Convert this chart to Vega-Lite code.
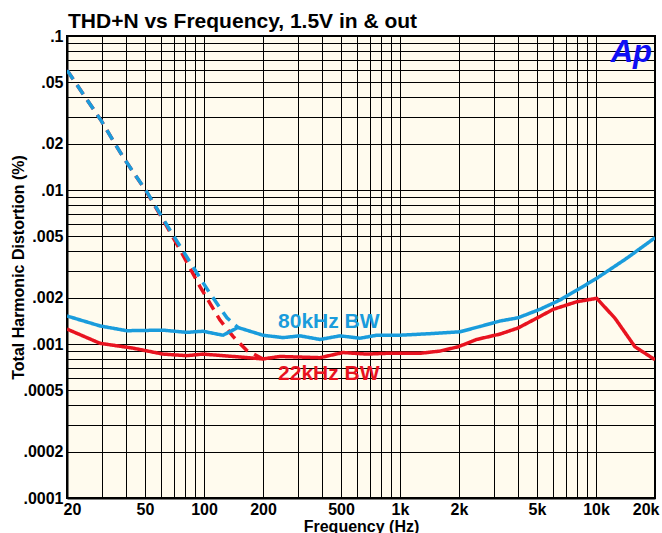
{
  "$schema": "https://vega.github.io/schema/vega-lite/v6.json",
  "width": 588,
  "height": 462,
  "autosize": {"type": "none"},
  "padding": {"left": 67, "top": 36, "right": 7, "bottom": 35},
  "background": "white",
  "title": {"text": "THD+N vs Frequency, 1.5V in & out", "anchor": "start", "frame": "group", "font": "Liberation Sans", "fontSize": 21, "fontWeight": "bold", "color": "black", "offset": 4, "dy": 8, "dx": 1},
  "config": {
    "view": {"fill": "#FFFBEE", "stroke": "black", "strokeWidth": 2},
    "axis": {
      "domainColor": "black", "domainWidth": 2,
      "gridColor": "black", "gridWidth": 1, "gridOpacity": 1,
      "ticks": false,
      "labelFont": "Liberation Sans", "labelFontWeight": "bold", "labelFontSize": 16, "labelColor": "black",
      "titleFont": "Liberation Sans", "titleFontWeight": "bold", "titleFontSize": 16, "titleColor": "black",
      "labelOverlap": false, "labelBound": false
    }
  },
  "datasets": {
    "curves": [
      {"bw": "80kHz", "kind": "solid", "f": 20, "v": 0.00152},
      {"bw": "80kHz", "kind": "solid", "f": 29.5, "v": 0.00131},
      {"bw": "80kHz", "kind": "solid", "f": 40.3, "v": 0.00122},
      {"bw": "80kHz", "kind": "solid", "f": 61.8, "v": 0.00123},
      {"bw": "80kHz", "kind": "solid", "f": 81.6, "v": 0.00119},
      {"bw": "80kHz", "kind": "solid", "f": 98.8, "v": 0.00121},
      {"bw": "80kHz", "kind": "solid", "f": 125, "v": 0.00114},
      {"bw": "80kHz", "kind": "solid", "f": 149, "v": 0.00128},
      {"bw": "80kHz", "kind": "solid", "f": 200, "v": 0.00114},
      {"bw": "80kHz", "kind": "solid", "f": 253, "v": 0.0011},
      {"bw": "80kHz", "kind": "solid", "f": 309, "v": 0.00113},
      {"bw": "80kHz", "kind": "solid", "f": 391, "v": 0.00107},
      {"bw": "80kHz", "kind": "solid", "f": 494, "v": 0.00113},
      {"bw": "80kHz", "kind": "solid", "f": 625, "v": 0.00109},
      {"bw": "80kHz", "kind": "solid", "f": 760, "v": 0.00114},
      {"bw": "80kHz", "kind": "solid", "f": 1000, "v": 0.00114},
      {"bw": "80kHz", "kind": "solid", "f": 1474, "v": 0.00117},
      {"bw": "80kHz", "kind": "solid", "f": 2024, "v": 0.0012},
      {"bw": "80kHz", "kind": "solid", "f": 2560, "v": 0.0013},
      {"bw": "80kHz", "kind": "solid", "f": 3238, "v": 0.00141},
      {"bw": "80kHz", "kind": "solid", "f": 4000, "v": 0.00148},
      {"bw": "80kHz", "kind": "solid", "f": 5180, "v": 0.00168},
      {"bw": "80kHz", "kind": "solid", "f": 6550, "v": 0.00193},
      {"bw": "80kHz", "kind": "solid", "f": 8280, "v": 0.0023},
      {"bw": "80kHz", "kind": "solid", "f": 10080, "v": 0.00267},
      {"bw": "80kHz", "kind": "solid", "f": 14340, "v": 0.0036},
      {"bw": "80kHz", "kind": "solid", "f": 20000, "v": 0.0049},
      {"bw": "80kHz", "kind": "dashed", "f": 20, "v": 0.06},
      {"bw": "80kHz", "kind": "dashed", "f": 30, "v": 0.028},
      {"bw": "80kHz", "kind": "dashed", "f": 38.6, "v": 0.0164},
      {"bw": "80kHz", "kind": "dashed", "f": 51, "v": 0.00975},
      {"bw": "80kHz", "kind": "dashed", "f": 67, "v": 0.0055},
      {"bw": "80kHz", "kind": "dashed", "f": 92, "v": 0.00289},
      {"bw": "80kHz", "kind": "dashed", "f": 107, "v": 0.00214},
      {"bw": "80kHz", "kind": "dashed", "f": 131, "v": 0.00148},
      {"bw": "80kHz", "kind": "dashed", "f": 149, "v": 0.00128},
      {"bw": "22kHz", "kind": "solid", "f": 20, "v": 0.00125},
      {"bw": "22kHz", "kind": "solid", "f": 29.5, "v": 0.00101},
      {"bw": "22kHz", "kind": "solid", "f": 43.4, "v": 0.00094},
      {"bw": "22kHz", "kind": "solid", "f": 61.8, "v": 0.00086},
      {"bw": "22kHz", "kind": "solid", "f": 81.6, "v": 0.00084},
      {"bw": "22kHz", "kind": "solid", "f": 98.8, "v": 0.00086},
      {"bw": "22kHz", "kind": "solid", "f": 140.6, "v": 0.00083},
      {"bw": "22kHz", "kind": "solid", "f": 200, "v": 0.0008},
      {"bw": "22kHz", "kind": "solid", "f": 244, "v": 0.00083},
      {"bw": "22kHz", "kind": "solid", "f": 391, "v": 0.000815},
      {"bw": "22kHz", "kind": "solid", "f": 512, "v": 0.00088},
      {"bw": "22kHz", "kind": "solid", "f": 676, "v": 0.00086},
      {"bw": "22kHz", "kind": "solid", "f": 855, "v": 0.00087},
      {"bw": "22kHz", "kind": "solid", "f": 1264, "v": 0.00087},
      {"bw": "22kHz", "kind": "solid", "f": 1600, "v": 0.0009},
      {"bw": "22kHz", "kind": "solid", "f": 1984, "v": 0.00096},
      {"bw": "22kHz", "kind": "solid", "f": 2460, "v": 0.00107},
      {"bw": "22kHz", "kind": "solid", "f": 3238, "v": 0.00116},
      {"bw": "22kHz", "kind": "solid", "f": 4000, "v": 0.00127},
      {"bw": "22kHz", "kind": "solid", "f": 4980, "v": 0.00147},
      {"bw": "22kHz", "kind": "solid", "f": 6055, "v": 0.00168},
      {"bw": "22kHz", "kind": "solid", "f": 7970, "v": 0.00188},
      {"bw": "22kHz", "kind": "solid", "f": 10080, "v": 0.00198},
      {"bw": "22kHz", "kind": "solid", "f": 12500, "v": 0.00147},
      {"bw": "22kHz", "kind": "solid", "f": 15800, "v": 0.00096},
      {"bw": "22kHz", "kind": "solid", "f": 20000, "v": 0.00079},
      {"bw": "22kHz", "kind": "dashed", "f": 20, "v": 0.06},
      {"bw": "22kHz", "kind": "dashed", "f": 30, "v": 0.028},
      {"bw": "22kHz", "kind": "dashed", "f": 38.6, "v": 0.0164},
      {"bw": "22kHz", "kind": "dashed", "f": 51, "v": 0.0097},
      {"bw": "22kHz", "kind": "dashed", "f": 61.8, "v": 0.0064},
      {"bw": "22kHz", "kind": "dashed", "f": 75.4, "v": 0.0041},
      {"bw": "22kHz", "kind": "dashed", "f": 95.4, "v": 0.00236},
      {"bw": "22kHz", "kind": "dashed", "f": 120.7, "v": 0.00143},
      {"bw": "22kHz", "kind": "dashed", "f": 140.6, "v": 0.00112},
      {"bw": "22kHz", "kind": "dashed", "f": 165, "v": 0.00091},
      {"bw": "22kHz", "kind": "dashed", "f": 200, "v": 0.0008}
    ],
    "labels": [
      {"bw": "80kHz", "label": "80kHz BW", "f": 238.6, "v": 0.00138},
      {"bw": "22kHz", "label": "22kHz BW", "f": 238.6, "v": 0.000638}
    ],
    "logo": [
      {"label": "Ap", "f": 19320, "v": 0.0678}
    ]
  },
  "encoding": {
    "x": {
      "field": "f", "type": "quantitative",
      "scale": {"type": "log", "domain": [20, 20000], "nice": false},
      "axis": {
        "title": "Frequency (Hz)", "titlePadding": 1, "labelPadding": 3, "labelFlush": true, "labelFlushOffset": 4, "labelDx": 1.5, "grid": true,
        "values": [20, 30, 40, 50, 60, 70, 80, 90, 100, 200, 300, 400, 500, 600, 700, 800, 900, 1000, 2000, 3000, 4000, 5000, 6000, 7000, 8000, 9000, 10000, 20000],
        "labelExpr": "(datum.value == 20 || datum.value == 50 || datum.value == 100 || datum.value == 200 || datum.value == 500) ? ('' + datum.value) : ((datum.value == 1000 || datum.value == 2000 || datum.value == 5000 || datum.value == 10000 || datum.value == 20000) ? ((datum.value / 1000) + 'k') : '')"
      }
    },
    "y": {
      "field": "v", "type": "quantitative",
      "scale": {"type": "log", "domain": [0.0001, 0.1], "nice": false},
      "axis": {
        "title": "Total Harmonic Distortion (%)", "titlePadding": -4, "labelPadding": 4, "labelFlush": false, "grid": true,
        "values": [0.0001, 0.0002, 0.0003, 0.0004, 0.0005, 0.0006, 0.0007, 0.0008, 0.0009, 0.001, 0.002, 0.003, 0.004, 0.005, 0.006, 0.007, 0.008, 0.009, 0.01, 0.02, 0.03, 0.04, 0.05, 0.06, 0.07, 0.08, 0.09, 0.1],
        "labelExpr": "(datum.value == 0.1 || datum.value == 0.05 || datum.value == 0.02 || datum.value == 0.01 || datum.value == 0.005 || datum.value == 0.002 || datum.value == 0.001 || datum.value == 0.0005 || datum.value == 0.0002 || datum.value == 0.0001) ? substring(toString(datum.value), 1) : ''"
      }
    }
  },
  "layer": [
    {
      "data": {"name": "curves"},
      "transform": [{"filter": "datum.bw == '22kHz'"}],
      "mark": {"type": "line", "strokeWidth": 3.5, "clip": true, "strokeCap": "butt"},
      "encoding": {
        "color": {"field": "bw", "type": "nominal", "scale": {"domain": ["80kHz", "22kHz"], "range": ["#1A9CDC", "#E8131F"]}, "legend": null},
        "strokeDash": {"field": "kind", "type": "nominal", "scale": {"domain": ["solid", "dashed"], "range": [[1, 0], [11, 7]]}, "legend": null}
      }
    },
    {
      "data": {"name": "curves"},
      "transform": [{"filter": "datum.bw == '80kHz'"}],
      "mark": {"type": "line", "strokeWidth": 3.5, "clip": true, "strokeCap": "butt"},
      "encoding": {
        "color": {"field": "bw", "type": "nominal", "legend": null},
        "strokeDash": {"field": "kind", "type": "nominal", "legend": null}
      }
    },
    {
      "data": {"name": "labels"},
      "mark": {"type": "text", "align": "left", "baseline": "middle", "font": "Liberation Sans", "fontWeight": "bold", "fontSize": 21},
      "encoding": {
        "text": {"field": "label"},
        "color": {"field": "bw", "type": "nominal", "legend": null}
      }
    },
    {
      "data": {"name": "logo"},
      "mark": {"type": "text", "align": "right", "baseline": "alphabetic", "font": "Liberation Sans", "fontWeight": "bold", "fontStyle": "italic", "fontSize": 31, "color": "#0F0FF5"},
      "encoding": {
        "text": {"field": "label"}
      }
    }
  ]
}
